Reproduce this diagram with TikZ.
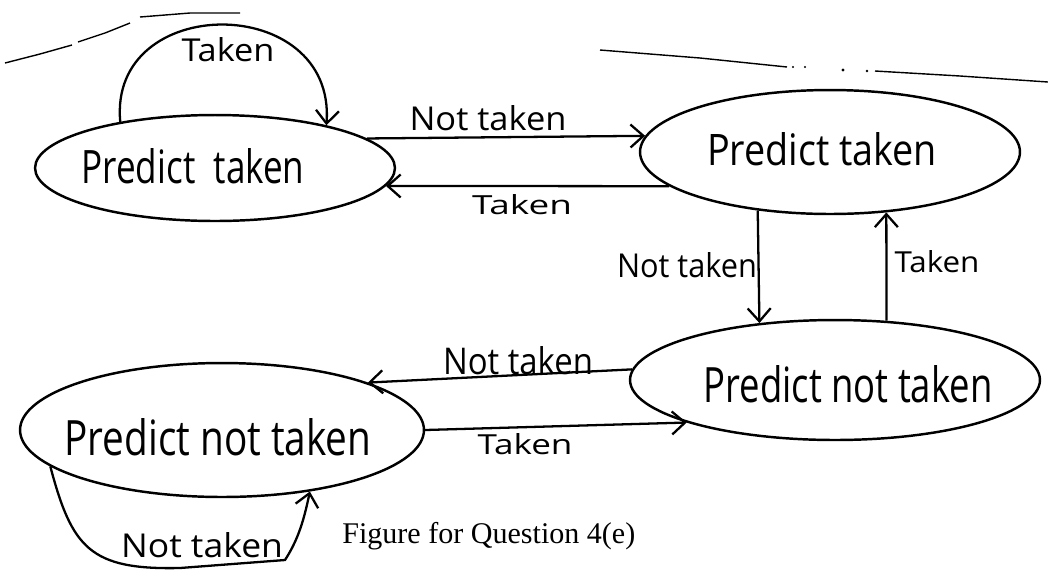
\documentclass[tikz,border=0pt]{standalone}
\usepackage{fontspec}
\setmainfont{Open Sans}
\newfontfamily\capfont{Liberation Serif}
\usetikzlibrary{shapes.geometric,arrows.meta}
\newcommand\hw[3]{\resizebox{#1}{#2}{#3}}
\begin{document}
\begin{tikzpicture}[x=0.02cm,y=-0.02cm,
  state/.style={draw,ellipse,line width=1.4pt,inner sep=0pt},
  conn/.style={line width=1.3pt,-{Straight Barb[length=2.6mm,width=4.6mm,line width=1.3pt]}},
  lbl/.style={inner sep=0pt},
  stray/.style={line width=0.8pt}]
\useasboundingbox (0,0) rectangle (1048,576);
% scan artefacts
\draw[stray] (5,63) -- (40,54) -- (72,45);
\draw[stray] (78,42) -- (105,33) -- (130,23);
\draw[stray] (140,17) -- (190,13) -- (240,13);
\draw[stray] (600,50) -- (700,58) -- (787,67);
\draw[stray] (875,71) -- (960,76) -- (1048,82);
\fill (793,67) circle (1.2) (805,67) circle (1.2) (843,70) circle (1.6) (867,71) circle (1.4);
% states
\node[state,minimum width=7.2cm,minimum height=2.12cm] (e1) at (215,168) {};
\node[lbl] (t1) at (193,166) {\hw{4.46cm}{0.7cm}{Predict\ \ taken}};
\node[state,minimum width=7.6cm,minimum height=2.48cm] (e2) at (830,152) {};
\node[lbl] (t2) at (822,149) {\hw{4.6cm}{0.66cm}{Predict taken}};
\node[state,minimum width=8.2cm,minimum height=2.4cm] (e3) at (835,380) {};
\node[lbl] (t3) at (848,384) {\hw{5.78cm}{0.74cm}{Predict not taken}};
\node[state,minimum width=8.08cm,minimum height=2.68cm] (e4) at (222,430) {};
\node[lbl] (t4) at (218,437) {\hw{6.14cm}{0.74cm}{Predict not taken}};
% connectors
\draw[conn] (e1.154) .. controls (108,-8) and (336,-8) .. (e1.21.7);
\draw[conn] (e1.11.43) -- (e2.175.7);
\draw[conn] (e2.192.6) -- (e1.-6.45);
\draw[conn] (e2.219.45) -- (e3.143.35);
\draw[conn] (e3.49.3) -- (e2.-47.2);
\draw[conn] (e3.177.2) -- (e4.18.07);
\draw[conn] (e4.0) -- (e3.196.05);
\draw[conn] (e4.192.7) .. controls (72,548) and (90,570) .. (180,568)
   -- (285,560) .. controls (298,540) and (304,520) .. (e4.-35.6);
% labels
\node[lbl] (l1) at (228,50) {\hw{1.86cm}{0.48cm}{Taken}};
\node[lbl] (l2) at (488,118) {\hw{3.14cm}{0.5cm}{Not taken}};
\node[lbl] (l3) at (522,205) {\hw{2.0cm}{0.4cm}{Taken}};
\node[lbl] (l4) at (687,265) {\hw{2.8cm}{0.5cm}{Not taken}};
\node[lbl] (l5) at (937,262) {\hw{1.7cm}{0.44cm}{Taken}};
\node[lbl] (l6) at (518,361) {\hw{3.0cm}{0.56cm}{Not taken}};
\node[lbl] (l7) at (525,444) {\hw{1.9cm}{0.42cm}{Taken}};
\node[lbl] (l8) at (202,545) {\hw{3.24cm}{0.5cm}{Not taken}};
\node[lbl,anchor=base west] (cap) at (342,543) {\resizebox{5.86cm}{!}{\capfont Figure for Question 4(e)}};
\end{tikzpicture}
\end{document}
